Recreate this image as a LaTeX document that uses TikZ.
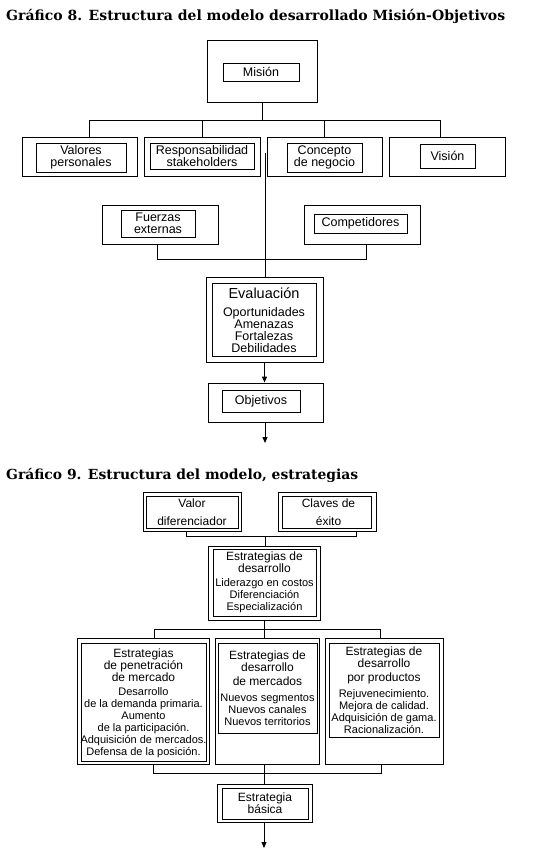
\documentclass[tikz,border=0pt]{standalone}
\usepackage{fontspec}
\usepackage{graphicx}
\usetikzlibrary{arrows.meta,fit}
\newfontfamily\arialf{Liberation Sans}
\newfontfamily\titlef{DejaVu Serif}
\newcommand\smf{\fontsize{11}{12}\selectfont}
\newcommand\bgf{\fontsize{14.5}{12}\selectfont}
\begin{document}
\begin{tikzpicture}[x=1pt,y=-1pt,
  bx/.style={draw, line width=1pt, inner sep=0pt},
  txt/.style={font=\arialf\fontsize{12.5}{12}\selectfont, align=center, inner sep=0pt},
  txtb/.style={font=\arialf\fontsize{12}{12}\selectfont, align=center, inner sep=0pt},
  ln/.style={line width=1pt},
  arr/.style={line width=1pt, -{Triangle[length=6pt,width=5pt]}}]
\fill[white] (0,0) rectangle (538,868);
\useasboundingbox (0,0) rectangle (538,868);

% ---------- Figure 8 ----------
\node[anchor=base west, inner sep=0pt] (t1) at (6,20)
  {\resizebox{499pt}{!}{\titlef\bfseries Gráfico 8. Estructura del modelo desarrollado Misión-Objetivos}};

\node[bx, fit={(207,40) (317,102)}] (mo) {};
\node[bx, fit={(223,63) (299,81)}] (mi) {};
\node[txt] (mit) at (mi.center) {Misión};

\node[bx, fit={(22,137) (137,176)}] (vo) {};
\node[bx, fit={(36,143) (126,172)}] (vi) {};
\node[txt] (vit) at (vi.center) {Valores\\personales};
\node[bx, fit={(144,137) (260,176)}] (ro) {};
\node[bx, fit={(150,143) (254,169)}] (ri) {};
\node[txt] (rit) at (ri.center) {Responsabilidad\\stakeholders};
\node[bx, fit={(267,137) (382,176)}] (co) {};
\node[bx, fit={(287,143) (362,172)}] (ci) {};
\node[txt] (cit) at (ci.center) {Concepto\\de negocio};
\node[bx, fit={(389,137) (505,176)}] (vso) {};
\node[bx, fit={(420,144) (475,168)}] (vsi) {};
\node[txt] (vsit) at (vsi.center) {Visión};

\coordinate (busL) at (89,120);
\coordinate (busR) at (440,120);
\draw[ln] (mo.south) -- (mo.south |- busL);
\draw[ln] (busL) -- (busR);
\draw[ln] (busL) -- (busL |- vo.north);
\draw[ln] (ro.north |- busL) -- (ro.north);
\draw[ln] (co.north |- busL) -- (co.north);
\draw[ln] (busR) -- (busR |- vso.north);

\node[bx, fit={(102,205) (218,244)}] (fo) {};
\node[bx, fit={(121,210) (195,237)}] (fi) {};
\node[txt] (fit1) at (fi.center) {Fuerzas\\externas};
\node[bx, fit={(304,205) (420,244)}] (cpo) {};
\node[bx, fit={(314,214) (407,233)}] (cpi) {};
\node[txt] (cpit) at (cpi.center) {Competidores};

\node[bx, fit={(206,277) (323,362)}] (eo) {};
\node[bx, fit={(212,283) (316,356)}] (ei) {};
\node[txt] (eit) at ([yshift=-1pt]ei.center)
  {{\bgf Evaluación}\\[6pt]Oportunidades\\Amenazas\\Fortalezas\\Debilidades};

\coordinate (vtop) at (265,153);
\draw[ln] (vtop) -- (vtop |- eo.north);
\coordinate (jf) at (157,259);
\coordinate (jc) at (366,259);
\draw[ln] (jf |- fo.south) -- (jf) -- (jc) -- (jc |- cpo.south);

\node[bx, fit={(208,383) (323,422)}] (oo) {};
\node[bx, fit={(222,390) (300,412)}] (oi) {};
\node[txt] (oit) at (oi.center) {Objetivos};
\draw[arr] (eo.south) -- (eo.south |- oo.north);
\coordinate (end1) at (265,443);
\draw[arr] (oo.south -| end1) -- (end1);

% ---------- Figure 9 ----------
\node[anchor=base west, inner sep=0pt] (t2) at (6,479)
  {\resizebox{352pt}{!}{\titlef\bfseries Gráfico 9. Estructura del modelo, estrategias}};

\node[bx, fit={(143,492) (241,531)}] (vdo) {};
\node[bx, fit={(146,496) (238,528)}] (vdi) {};
\node[txtb] (vdit) at (vdi.center) {Valor\\[6pt]diferenciador};
\node[bx, fit={(278,492) (376,531)}] (clo) {};
\node[bx, fit={(282,496) (371,528)}] (cli) {};
\node[txtb] (clit) at ([xshift=2pt]cli.center) {Claves de\\[6pt]éxito};

\node[bx, fit={(208,546) (320,620)}] (edo) {};
\node[bx, fit={(213,549) (316,616)}] (edi) {};
\node[txtb] (edit) at (edi.center)
  {Estrategias de\\desarrollo\\[2pt]\smf Liderazgo en costos\\\smf Diferenciación\\\smf Especialización};

\coordinate (ja) at (186,536);
\coordinate (jb) at (356,536);
\coordinate (jm) at (265,536);
\draw[ln] (ja |- vdo.south) -- (ja) -- (jb) -- (jb |- clo.south);
\draw[ln] (jm) -- (jm |- edo.north);

\node[bx, fit={(77,638) (209,764)}] (b1o) {};
\node[bx, fit={(81,643) (206,761)}] (b1i) {};
\node[txtb] (b1t) at ([yshift=-1pt]b1i.center)
  {Estrategias\\de penetración\\de mercado\\[2pt]\smf Desarrollo\\\smf de la demanda primaria.\\\smf Aumento\\\smf de la participación.\\\smf Adquisición de mercados.\\\smf Defensa de la posición.};
\node[bx, fit={(215,638) (319,764)}] (b2o) {};
\node[bx, fit={(218,643) (317,733)}] (b2i) {};
\node[txtb] (b2t) at (b2i.center)
  {Estrategias de\\desarrollo\\[2pt]de mercados\\[4pt]\smf Nuevos segmentos\\\smf Nuevos canales\\\smf Nuevos territorios};
\node[bx, fit={(325,638) (443,764)}] (b3o) {};
\node[bx, fit={(329,643) (439,737)}] (b3i) {};
\node[txtb] (b3t) at (b3i.center)
  {Estrategias de\\desarrollo\\[2pt]por productos\\[4pt]\smf Rejuvenecimiento.\\\smf Mejora de calidad.\\\smf Adquisición de gama.\\\smf Racionalización.};

\coordinate (bt1) at (154,629);
\coordinate (bt3) at (380,629);
\draw[ln] (edo.south) -- (edo.south |- bt1);
\draw[ln] (bt1) -- (bt3);
\draw[ln] (bt1) -- (bt1 |- b1o.north);
\draw[ln] (edo.south |- bt1) -- (edo.south |- b2o.north);
\draw[ln] (bt3) -- (bt3 |- b3o.north);

\node[bx, fit={(217,784) (312,822)}] (ebo) {};
\node[bx, fit={(222,788) (308,819)}] (ebi) {};
\node[txtb] (ebit) at (ebi.center) {Estrategia\\básica};

\coordinate (bb1) at (153,773);
\coordinate (bb3) at (381,773);
\coordinate (bbm) at (264,773);
\draw[ln] (bb1 |- b1o.south) -- (bb1) -- (bb3) -- (bb3 |- b3o.south);
\draw[ln] (bbm |- b2o.south) -- (bbm);
\draw[ln] (bbm) -- (bbm |- ebo.north);
\coordinate (end2) at (264,848);
\draw[arr] (ebo.south -| end2) -- (end2);
\end{tikzpicture}
\end{document}
